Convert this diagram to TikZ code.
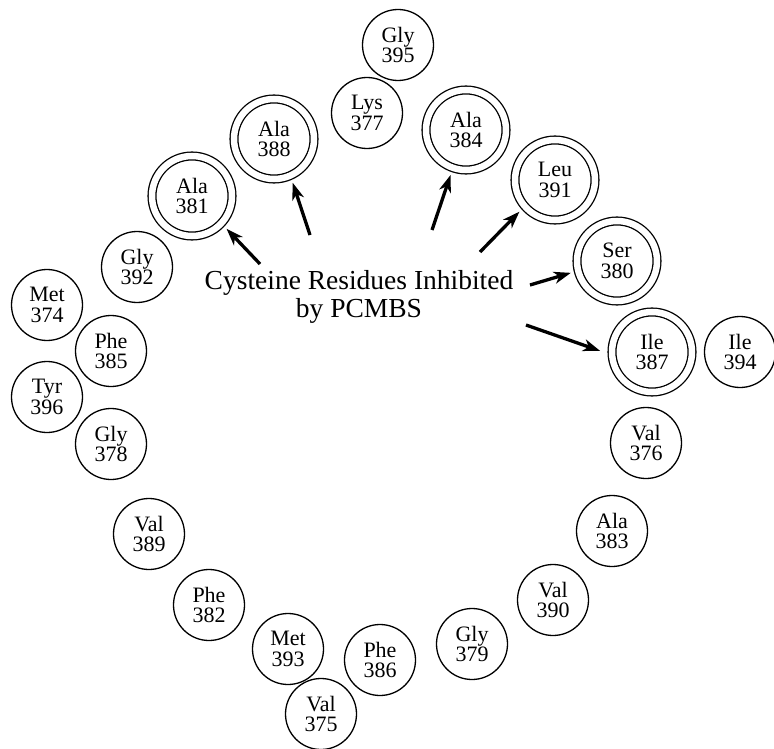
\documentclass[tikz,border=0pt]{standalone}
\usepackage{fontspec}
\setmainfont{Liberation Serif}
\usetikzlibrary{arrows.meta}
\begin{document}
\begin{tikzpicture}[x=1pt,y=-1pt,
  res/.style={circle, draw, line width=1.3pt, minimum size=71pt, inner sep=0pt,
    align=center, font=\fontsize{22}{20.5}\selectfont},
  dbl/.style={res, minimum size=80pt, double, double distance=6.5pt},
  arr/.style={-{Stealth[length=17pt,width=12pt,inset=5pt]}, line width=3.3pt, shorten >=7pt},
  title/.style={align=center, font=\fontsize{27.5}{28}\selectfont, inner sep=0pt}]
\useasboundingbox (0,0) rectangle (774,749);
% single residues
\node[res] (g395) at (398,45) {Gly\\395};
\node[res] (l377) at (367,113) {Lys\\377};
\node[res] (g392) at (137,267) {Gly\\392};
\node[res] (m374) at (47,305) {Met\\374};
\node[res] (p385) at (111,351) {Phe\\385};
\node[res] (t396) at (47,397) {Tyr\\396};
\node[res] (g378) at (111,444) {Gly\\378};
\node[res] (v389) at (149,534) {Val\\389};
\node[res] (p382) at (209,605) {Phe\\382};
\node[res] (m393) at (288,649) {Met\\393};
\node[res] (p386) at (380,660) {Phe\\386};
\node[res] (v375) at (321,714) {Val\\375};
\node[res] (g379) at (472,644) {Gly\\379};
\node[res] (v390) at (553,600) {Val\\390};
\node[res] (a383) at (612,531) {Ala\\383};
\node[res] (v376) at (646,443) {Val\\376};
\node[res] (i394) at (740,352) {Ile\\394};
% double residues
\node[dbl] (a381) at (192,196) {Ala\\381};
\node[dbl] (a388) at (274,139) {Ala\\388};
\node[dbl] (a384) at (466,130) {Ala\\384};
\node[dbl] (l391) at (555,180) {Leu\\391};
\node[dbl] (s380) at (617,261) {Ser\\380};
\node[dbl] (i387) at (652,352) {Ile\\387};
% title
\node[title] (ttl) at (359,297) {Cysteine Residues Inhibited\\by PCMBS};
% arrow tails
\coordinate (t1) at (260,264);
\coordinate (t2) at (310,235);
\coordinate (t3) at (432,230);
\coordinate (t4) at (480,252);
\coordinate (t5) at (530,285);
\coordinate (t6) at (526,325);
\draw[arr] (t1) -- (a381.-43);
\draw[arr] (t2) -- (a388.-66);
\draw[arr] (t3) -- (a384.-109);
\draw[arr] (t4) -- (l391.-139);
\draw[arr] (t5) -- (s380.-166);
\draw[arr, shorten >=12pt] (t6) -- (i387.-176);
\end{tikzpicture}
\end{document}
